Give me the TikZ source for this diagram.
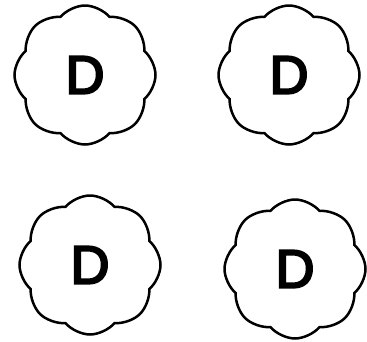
\documentclass[tikz,border=0pt]{standalone}
\usepackage{fontspec}
\setmainfont{Liberation Sans}
\newfontfamily\dfont{Liberation Sans}[FakeBold=4]
\usetikzlibrary{shapes.symbols}
\begin{document}
\begin{tikzpicture}[x=1pt,y=-1pt,
  puff/.style={cloud, cloud puffs=8, cloud puff arc=100, aspect=1,
    draw=black, line width=2.5pt, inner sep=0pt,
    minimum width=141pt, minimum height=139pt,
    font=\dfont\fontsize{54}{54}\selectfont}]
\useasboundingbox (0,0) rectangle (367,341);
\node[puff] (c1) at (85,75) {D};
\node[puff] (c2) at (289,75) {D};
\node[puff] (c3) at (90,265) {D};
\node[puff] (c4) at (295,269) {D};
\end{tikzpicture}
\end{document}
